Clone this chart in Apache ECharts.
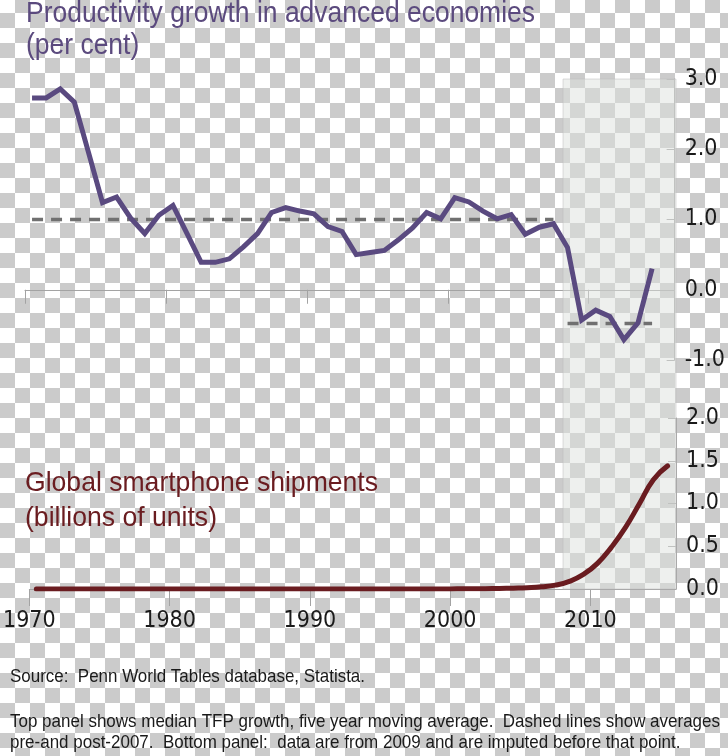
<!DOCTYPE html>
<html><head><meta charset="utf-8">
<script src="https://cdn.jsdelivr.net/npm/echarts@6/dist/echarts.min.js"></script>
<style>
html,body{margin:0;padding:0;}
body{width:728px;height:756px;background:repeating-conic-gradient(#cbcbcb 0 25%, #ffffff 0 50%);background-size:30px 30px;background-position:0 -2px;}
#chart{width:728px;height:756px;}
</style></head><body><div id="chart"></div>
<script>
// ---- data ----
const tfpYears = [1970,1971,1972,1973,1974,1975,1976,1977,1978,1979,1980,1981,1982,1983,1984,1985,1986,1987,1988,1989,1990,1991,1992,1993,1994,1995,1996,1997,1998,1999,2000,2001,2002,2003,2004,2005,2006,2007,2008,2009,2010,2011,2012,2013,2014];
const tfpGrowth = [2.73,2.73,2.86,2.67,1.96,1.24,1.32,1.02,0.80,1.06,1.20,0.80,0.39,0.39,0.44,0.61,0.80,1.10,1.17,1.12,1.08,0.90,0.83,0.50,0.53,0.56,0.71,0.88,1.10,1.01,1.31,1.25,1.12,1.01,1.07,0.79,0.89,0.94,0.60,-0.43,-0.29,-0.38,-0.71,-0.47,0.30];
const preAvgYears = [1970, 2007];
const preAvg = [1.0, 1.0];
const postAvgYears = [2008, 2014];
const postAvg = [-0.48, -0.48];
const phoneYears = [1970,1971,1972,1973,1974,1975,1976,1977,1978,1979,1980,1981,1982,1983,1984,1985,1986,1987,1988,1989,1990,1991,1992,1993,1994,1995,1996,1997,1998,1999,2000,2001,2002,2003,2004,2005,2006,2007,2008,2009,2010,2011,2012,2013,2014,2015];
const phoneShipments = [0,0,0,0,0,0,0,0,0,0,0,0,0,0,0,0,0,0,0,0,0,0,0,0,0,0,0,0,0,0,0.002,0.003,0.004,0.006,0.01,0.015,0.025,0.045,0.09,0.17,0.30,0.49,0.72,1.00,1.28,1.44];
const shadeFrom = 2008.1;
const xTicks = [1970,1980,1990,2000,2010];
const topYTicks = [-1,0,1,2,3];
const bottomYTicks = [0,0.5,1,1.5,2];

const title1 = ['Productivity growth in advanced economies', '(per cent)'];
const title2 = ['Global smartphone shipments', '(billions of units)'];
const sourceText = 'Source:  Penn World Tables database, Statista.';
const noteText = ['Top panel shows median TFP growth, five year moving average.  Dashed lines show averages',
                  'pre-and post-2007.  Bottom panel:  data are from 2009 and are imputed before that point.'];

// mid-year placement
const OFF = 0.5;
const pair = (xs, ys) => xs.map((x, i) => [x + OFF, ys[i]]);

const AXFONT = "'DejaVu Sans Condensed', 'Liberation Sans', sans-serif";
const TFONT = "'Liberation Sans', Arial, sans-serif";
const axisColor = '#a3a3a3';
const X_MIN = 1970, X_MAX = 2016.1;

// condensed look: scale text horizontally to the reference's line width
const mctx = document.createElement('canvas').getContext('2d');
function fitScale(text, size, width) {
  mctx.font = size + 'px ' + TFONT;
  return width / mctx.measureText(text).width;
}
function textLines(lines, x, ys, size, color, width) {
  const s = fitScale(lines[0], size, width);
  return lines.map((t, i) => ({
    type: 'text', x: x, y: ys[i], scaleX: s, silent: true,
    style: {text: t, fontFamily: TFONT, fontSize: size, fill: color, verticalAlign: 'middle', align: 'left'}
  }));
}

const chart = echarts.init(document.getElementById('chart'), null, {renderer: 'canvas'});
chart.setOption({
  backgroundColor: 'transparent',
  animation: false,
  graphic: [].concat(
    textLines(title1, 26, [14, 46], 29, '#5b4a7e', 509),
    textLines(title2, 25, [483, 518], 28, '#6a1c20', 353),
    textLines([sourceText], 10, [677], 19, '#1a1a1a', 355),
    textLines(noteText, 10, [722, 743], 19, '#1a1a1a', 710)
  ),
  grid: [
    {left: 25, right: 52, top: 79, height: 281},
    {left: 25, right: 52, top: 418, height: 171},
    {left: 25, right: 52, top: 79, height: 510}
  ],
  xAxis: [
    {gridIndex: 0, type: 'value', min: X_MIN, max: X_MAX,
     axisLine: {onZero: true, lineStyle: {color: axisColor}},
     axisTick: {show: true, length: 14, customValues: xTicks, lineStyle: {color: axisColor}},
     axisLabel: {show: false}, splitLine: {show: false}},
    {gridIndex: 1, type: 'value', min: X_MIN, max: X_MAX,
     axisLine: {lineStyle: {color: axisColor}},
     axisTick: {show: true, length: 17, customValues: xTicks, lineStyle: {color: axisColor}},
     axisLabel: {customValues: xTicks, formatter: v => String(v), fontFamily: AXFONT, fontSize: 23, color: '#1a1a1a', margin: 21},
     splitLine: {show: false}},
    {gridIndex: 2, type: 'value', min: X_MIN, max: X_MAX, show: false}
  ],
  yAxis: [
    {gridIndex: 0, type: 'value', position: 'right', min: -1, max: 3, interval: 1,
     axisLine: {show: true, lineStyle: {color: axisColor}},
     axisTick: {show: true, inside: true, length: 8, customValues: topYTicks, lineStyle: {color: axisColor}},
     axisLabel: {customValues: topYTicks, formatter: v => v.toFixed(1), fontFamily: AXFONT, fontSize: 23, color: '#1a1a1a', margin: 10},
     splitLine: {show: false}},
    {gridIndex: 1, type: 'value', position: 'right', min: 0, max: 2, interval: 0.5,
     axisLine: {show: true, lineStyle: {color: axisColor}},
     axisTick: {show: true, inside: true, length: 8, customValues: bottomYTicks, lineStyle: {color: axisColor}},
     axisLabel: {customValues: bottomYTicks, formatter: v => v.toFixed(1), fontFamily: AXFONT, fontSize: 23, color: '#1a1a1a', margin: 10},
     splitLine: {show: false}},
    {gridIndex: 2, type: 'value', min: 0, max: 1, show: false}
  ],
  series: [
    {type: 'line', xAxisIndex: 2, yAxisIndex: 2, data: [], silent: true, z: 0,
     markArea: {silent: true, itemStyle: {color: 'rgba(222,226,222,0.5)', borderColor: 'rgba(190,190,190,0.5)', borderWidth: 1},
       data: [[{xAxis: shadeFrom}, {xAxis: 'max'}]]}},
    {type: 'line', xAxisIndex: 0, yAxisIndex: 0, data: pair(preAvgYears, preAvg), symbol: 'none', z: 3,
     lineStyle: {color: '#707070', width: 3.5, type: [11, 8]}},
    {type: 'line', xAxisIndex: 0, yAxisIndex: 0, data: pair(postAvgYears, postAvg), symbol: 'none', z: 3,
     lineStyle: {color: '#707070', width: 3.5, type: [11, 8]}},
    {type: 'line', xAxisIndex: 0, yAxisIndex: 0, data: pair(tfpYears, tfpGrowth), symbol: 'none', z: 4,
     lineStyle: {color: '#5a4a80', width: 5, join: 'miter'}},
    {type: 'line', xAxisIndex: 1, yAxisIndex: 1, data: pair(phoneYears, phoneShipments), symbol: 'none', z: 4,
     smooth: true,
     lineStyle: {color: '#6a1c20', width: 5, cap: 'round'}}
  ]
});
</script></body></html>
